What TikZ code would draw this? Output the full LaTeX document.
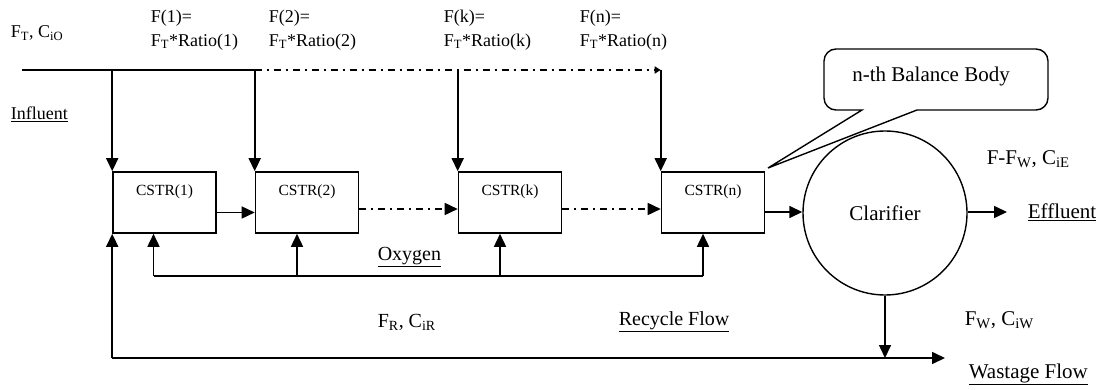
\documentclass[tikz,border=0pt]{standalone}
\usepackage{fontspec}
\setmainfont{Liberation Serif}
\usetikzlibrary{arrows.meta}
\begin{document}
\begin{tikzpicture}[x=1pt,y=-1pt,
  line width=1.6pt,
  tip/.style={-{Triangle[length=13pt,width=12pt]}},
  dd/.style={dash pattern=on 7pt off 5pt on 2pt off 5pt},
  cstr/.style={draw,minimum width=103pt,minimum height=61pt,inner sep=0pt},
  ctext/.style={font=\fontsize{15.5}{17}\selectfont,inner sep=0pt},
  lbl/.style={font=\fontsize{18}{24}\selectfont,anchor=west,inner sep=0pt,align=left},
  big/.style={lbl,font=\fontsize{21}{24}\selectfont},
  mid/.style={lbl,font=\fontsize{20}{24}\selectfont},
  ]
\useasboundingbox (0,0) rectangle (1102,390);
% reactors
\node[cstr] (c1) at (164.5,202.5) {};
\node[cstr] (c2) at (307,202.5) {};
\node[cstr] (ck) at (510,202.5) {};
\node[cstr] (cn) at (713,202.5) {};
\node[ctext] (t1) at ([yshift=-21pt]c1.north) {CSTR(1)};
\node[ctext] (t2) at ([yshift=-21pt]c2.north) {CSTR(2)};
\node[ctext] (tk) at ([yshift=-21pt]ck.north) {CSTR(k)};
\node[ctext] (tn) at ([yshift=-21pt]cn.north) {CSTR(n)};
% clarifier
\node[draw,circle,line width=1.4pt,minimum size=164pt,inner sep=0pt,font=\fontsize{21}{24}\selectfont] (cl) at (885,213) {Clarifier};
% influent line
\coordinate (in0) at (22,70);
\coordinate (j1) at (c1.north west |- in0);
\coordinate (j2) at (c2.north west |- in0);
\coordinate (jk) at (ck.north west |- in0);
\coordinate (jn) at (cn.north west |- in0);
\draw (in0) -- (j2);
\draw[dd,-{Triangle[length=6pt,width=7pt]}] (j2) -- (jn);
\draw[tip] (j1) -- (c1.north west);
\draw[tip] (j2) -- (c2.north west);
\draw[tip] (jk) -- (ck.north west);
\draw[tip] (jn) -- (cn.north west);
% series
\draw[tip] ([yshift=-10pt]c1.east) -- ([yshift=-10pt]c2.west);
\draw[tip,dd] ([yshift=-6.5pt]c2.east) -- ([yshift=-6.5pt]ck.west);
\draw[tip,dd] ([yshift=-6.5pt]ck.east) -- ([yshift=-6.5pt]cn.west);
\draw[tip] ([yshift=-9.5pt]cn.east) -- (cl.west |- 0,212);
% oxygen
\coordinate (o1) at ([xshift=-11pt]c1.south |- 0,276);
\coordinate (o2) at ([xshift=-10pt]c2.south |- 0,276);
\coordinate (ok) at ([xshift=-10pt]ck.south |- 0,276);
\coordinate (on) at ([xshift=-10pt]cn.south |- 0,276);
\draw (o1) -- (on);
\draw[tip] (o1) -- (o1 |- c1.south);
\draw[tip] (o2) -- (o2 |- c2.south);
\draw[tip] (ok) -- (ok |- ck.south);
\draw[tip] (on) -- (on |- cn.south);
% recycle / wastage
\coordinate (r0) at (c1.south west |- 0,358);
\coordinate (wj) at (cl.south |- 0,358);
\coordinate (wend) at (945,358);
\draw[tip] (r0) -- (c1.south west);
\draw[tip] (r0) -- (wend);
\draw[tip] (cl.south) -- (wj);
% effluent
\coordinate (eff) at (1007,212);
\draw[tip] (cl.east |- eff) -- (eff);
% callout
\node[font=\fontsize{21}{24}\selectfont,inner sep=0pt] (cb) at (931,76) {n-th Balance Body};
\draw[line width=1.4pt] (862,110) [rounded corners=12pt]-- (824,110) -- (824,49) -- (1048,49) -- (1048,110) [sharp corners]-- (917,110) -- (768,168) -- cycle;
% labels
\node[lbl] (lft) at (10,33) {F\textsubscript{T}, C\textsubscript{iO}};
\node[lbl] (lf1) at (150,30) {F(1)=\\F\textsubscript{T}*Ratio(1)};
\node[lbl] (lf2) at (268,30) {F(2)=\\F\textsubscript{T}*Ratio(2)};
\node[lbl] (lfk) at (443,30) {F(k)=\\F\textsubscript{T}*Ratio(k)};
\node[lbl] (lfn) at (579,30) {F(n)=\\F\textsubscript{T}*Ratio(n)};
\node[lbl] (linf) at (10,114) {\underline{Influent}};
\node[mid] (lox) at (377,257) {\underline{Oxygen}};
\node[mid] (lfr) at (377,322) {F\textsubscript{R}, C\textsubscript{iR}};
\node[mid] (lrec) at (618,322) {\underline{Recycle Flow}};
\node[big] (lfe) at (986,159) {F-F\textsubscript{W}, C\textsubscript{iE}};
\node[big] (leff) at (1027,212) {\underline{Effluent}};
\node[big] (lfw) at (964,320) {F\textsubscript{W}, C\textsubscript{iW}};
\node[big] (lwas) at (968,374) {\underline{Wastage Flow}};
\end{tikzpicture}
\end{document}
